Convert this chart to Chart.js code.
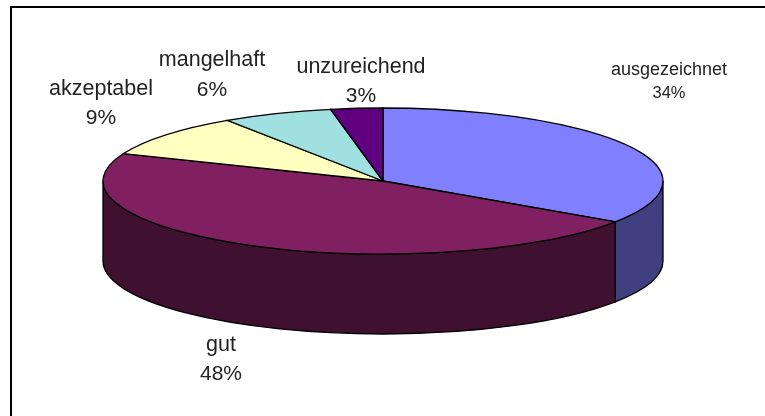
<!DOCTYPE html>
<html>
<head>
<meta charset="utf-8">
<style>
  html, body { margin: 0; padding: 0; background: #fff; overflow: hidden; }
  #frame { position: absolute; left: 10px; top: 6px; width: 755px; height: 410px; border-top: 2px solid #000; border-left: 2px solid #000; box-sizing: border-box; }
  #c { position: absolute; left: 0; top: 0; }
</style>
<script src="https://cdn.jsdelivr.net/npm/chart.js@4"></script>
</head>
<body>
<div id="frame"></div>
<canvas id="c" width="765" height="416"></canvas>
<script>
const categories = ['ausgezeichnet', 'gut', 'akzeptabel', 'mangelhaft', 'unzureichend']
const values = [34.5, 46.8, 9.5, 6.4, 3]
const percentLabels = ['34%', '48%', '9%', '6%', '3%']
const topColors = ['#8080ff', '#802060', '#ffffc0', '#a0e0e0', '#600080']
const sideColors = ['#404080', '#401030', '#808060', '#507070', '#300040']

// ellipse of the tilted pie
const centerX = 383, centerY = 181
const radiusX = 280, radiusY = 73, depth = 80

// text anchors, [x, name y, percent y, name size, percent size]
const labelSpots = [
  [669, 70, 93, 18, 16.5],
  [221, 345, 374, 21.5, 21],
  [101, 89, 118, 21.5, 21],
  [212, 60, 90, 21.5, 21],
  [361, 67, 96, 21.5, 21]
]

const tiltedPie = {
  id: 'tiltedPie',
  beforeDatasetsDraw(chart) {
    const ctx = chart.ctx
    const arcs = chart.getDatasetMeta(0).data
    const sx = radiusX / arcs[0].outerRadius
    const sy = radiusY / arcs[0].outerRadius

    const rim = (y, r, a, b, back) => {
      ctx.save()
      ctx.translate(centerX, y)
      ctx.scale(sx, sy)
      ctx.arc(0, 0, r, a, b, back)
      ctx.restore()
    }

    ctx.lineWidth = 1.3
    ctx.strokeStyle = '#000'

    // side wall, only the front half of the rim shows
    arcs.forEach((arc, i) => {
      const a = Math.max(arc.startAngle, 0)
      const b = Math.min(arc.endAngle, Math.PI)
      if (a >= b) return
      ctx.beginPath()
      rim(centerY, arc.outerRadius, a, b, false)
      rim(centerY + depth, arc.outerRadius, b, a, true)
      ctx.closePath()
      ctx.fillStyle = sideColors[i]
      ctx.fill()
      ctx.stroke()
    })

    // top face, filled by the library, outline redone so the width stays even
    arcs.forEach((arc) => {
      ctx.save()
      ctx.translate(centerX, centerY)
      ctx.scale(sx, sy)
      ctx.translate(-arc.x, -arc.y)
      arc.draw(ctx)
      ctx.restore()

      ctx.beginPath()
      ctx.moveTo(centerX, centerY)
      rim(centerY, arc.outerRadius, arc.startAngle, arc.endAngle, false)
      ctx.closePath()
      ctx.stroke()
    })

    // labels
    ctx.fillStyle = '#222'
    ctx.textAlign = 'center'
    ctx.textBaseline = 'middle'
    categories.forEach((name, i) => {
      const [x, y1, y2, size1, size2] = labelSpots[i]
      ctx.font = `${size1}px "Liberation Sans", Arial, sans-serif`
      ctx.fillText(name, x, y1)
      ctx.font = `${size2}px "Liberation Sans", Arial, sans-serif`
      ctx.fillText(percentLabels[i], x, y2)
    })
    return false
  }
}

new Chart(document.getElementById('c'), {
  type: 'pie',
  data: {
    labels: categories,
    datasets: [{
      data: values,
      backgroundColor: topColors,
      borderWidth: 0
    }]
  },
  options: {
    responsive: false,
    animation: false,
    radius: 100,
    plugins: {
      legend: { display: false },
      tooltip: { enabled: false }
    }
  },
  plugins: [tiltedPie]
})
</script>
</body>
</html>
